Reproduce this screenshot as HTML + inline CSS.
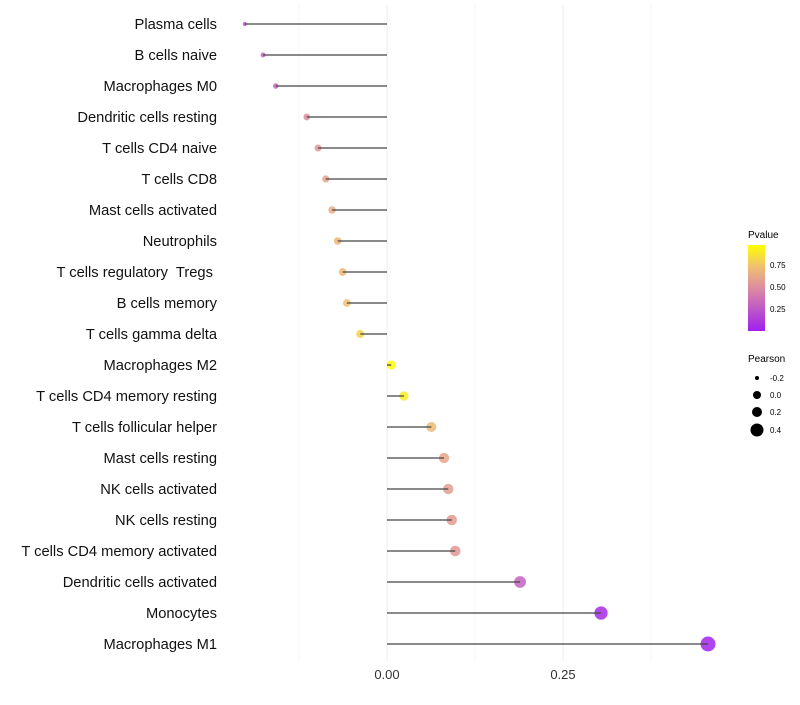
<!DOCTYPE html>
<html><head><meta charset="utf-8"><style>
body{margin:0;background:#fff;font-family:"Liberation Sans",sans-serif}
text{white-space:pre}
</style></head><body>
<svg id="chart" width="800" height="700" xmlns="http://www.w3.org/2000/svg" font-family="Liberation Sans, sans-serif">
<defs><linearGradient id="pg" x1="0" y1="1" x2="0" y2="0">
<stop offset="0" stop-color="#a020f0"/><stop offset="0.5" stop-color="#dc8ca0"/><stop offset="0.75" stop-color="#f0c070"/><stop offset="1" stop-color="#ffff00"/></linearGradient></defs>
<g id="grid"></g><g id="marks"></g><g id="labels"></g>
<g>
<text x="748" y="238" font-size="10">Pvalue</text>
<rect x="748" y="245" width="17" height="86" fill="url(#pg)"/>
<text x="770" y="268" font-size="8">0.75</text><text x="770" y="290" font-size="8">0.50</text><text x="770" y="312" font-size="8">0.25</text>
</g>
<g>
<text x="748" y="362" font-size="10">Pearson</text>
<circle cx="757" cy="378" r="2" fill="#000"/><text x="770" y="381" font-size="8">-0.2</text>
<circle cx="757" cy="395" r="4" fill="#000"/><text x="770" y="398" font-size="8">0.0</text>
<circle cx="757" cy="412" r="5" fill="#000"/><text x="770" y="415" font-size="8">0.2</text>
<circle cx="757" cy="430" r="6.5" fill="#000"/><text x="770" y="433" font-size="8">0.4</text>
</g>
</svg>
<script>
const categories=["Plasma cells","B cells naive","Macrophages M0","Dendritic cells resting","T cells CD4 naive","T cells CD8","Mast cells activated","Neutrophils","T cells regulatory  Tregs ","B cells memory","T cells gamma delta","Macrophages M2","T cells CD4 memory resting","T cells follicular helper","Mast cells resting","NK cells activated","NK cells resting","T cells CD4 memory activated","Dendritic cells activated","Monocytes","Macrophages M1"];
const pearson=[-0.202,-0.176,-0.158,-0.114,-0.098,-0.087,-0.078,-0.070,-0.063,-0.057,-0.038,0.006,0.024,0.063,0.081,0.087,0.092,0.097,0.189,0.304,0.456];
const pvalues=[0.25,0.3,0.32,0.5,0.55,0.62,0.66,0.7,0.72,0.75,0.82,0.98,0.92,0.72,0.62,0.58,0.57,0.56,0.3,0.05,0.02];
const xTicks=[0,0.25];
const xTickLabels=["0.00","0.25"];
const X=v=>387+v*704, Y=i=>24+i*31, R=v=>Math.sqrt(Math.max(4,20+79*v));
const NS="http://www.w3.org/2000/svg";
function mk(t,a,p){const e=document.createElementNS(NS,t);for(const k in a)e.setAttribute(k,a[k]);p.appendChild(e);return e;}
function lerp(a,b,t){return a.map((x,i)=>Math.round(x+(b[i]-x)*t));}
function col(p){const s=[[0,[160,32,240]],[0.5,[220,140,160]],[0.75,[240,192,112]],[1,[255,255,0]]];
for(let i=1;i<s.length;i++)if(p<=s[i][0]){const c=lerp(s[i-1][1],s[i][1],(p-s[i-1][0])/(s[i][0]-s[i-1][0]));return`rgb(${c})`;}return"rgb(255,255,0)";}
const grid=document.getElementById('grid'),marks=document.getElementById('marks'),labels=document.getElementById('labels');
[-0.125,0.125,0.375].forEach(v=>{const g=mk('line',{x1:X(v),x2:X(v),y1:5,y2:662,stroke:'#f5f5f5','stroke-width':1},grid);

});
xTicks.forEach((v,i)=>{const g=mk('line',{x1:X(v),x2:X(v),y1:5,y2:662,stroke:'#eeeeee','stroke-width':1},grid);


const t=mk('text',{x:X(v),y:679,'text-anchor':'middle','font-size':13,fill:'#333'},labels);t.textContent=xTickLabels[i];

});
categories.forEach((c,i)=>{
const t=mk('text',{x:217,y:Y(i)+5,'text-anchor':'end','font-size':14.7,fill:'#111'},labels);t.textContent=c;


const pt=mk('circle',{cx:X(pearson[i]),cy:Y(i),r:R(pearson[i]),fill:col(pvalues[i]),'fill-opacity':0.85},marks);


const l=mk('line',{x1:X(0),x2:X(pearson[i]),y1:Y(i),y2:Y(i),stroke:'#444','stroke-width':1.3},marks);


});
</script>
</body></html>
